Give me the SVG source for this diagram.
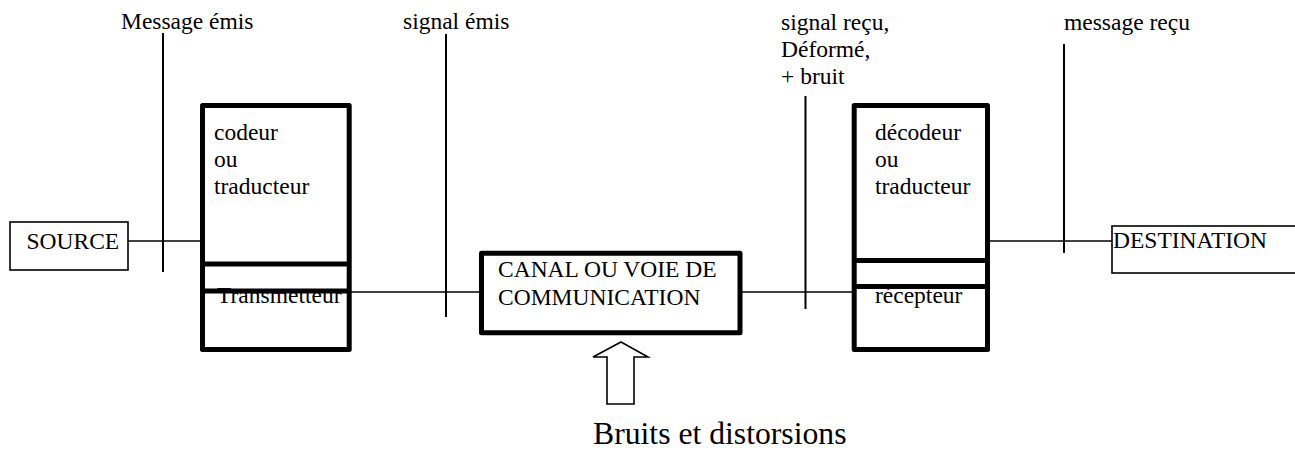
<svg xmlns="http://www.w3.org/2000/svg" width="1295" height="453" viewBox="0 0 1295 453">
<style>
text { font-family: "Liberation Serif", "Times New Roman", serif; font-size: 23.5px; fill: #000; }
.big { font-size: 31.7px; }
.thin { fill: #fff; stroke: #000; stroke-width: 1.6; }
.thick { fill: #fff; stroke: #000; stroke-width: 5; stroke-linejoin: round; }
.div { stroke: #000; stroke-width: 5; }
.conn { stroke: #000; stroke-width: 1.6; fill: none; }
.tick { stroke: #000; stroke-width: 2; fill: none; }
</style>
<rect width="1295" height="453" fill="#fff"/>
<g id="connectors">
  <line class="conn" x1="128" y1="241" x2="201" y2="241"/>
  <line class="conn" x1="350" y1="292" x2="480" y2="292"/>
  <line class="conn" x1="741" y1="292" x2="853" y2="292"/>
  <line class="conn" x1="989" y1="241" x2="1112" y2="241"/>
</g>
<g id="markers">
  <line class="tick" x1="163" y1="33" x2="163" y2="272"/>
  <line class="tick" x1="446" y1="34" x2="446" y2="317"/>
  <line class="tick" x1="805.5" y1="96" x2="805.5" y2="309"/>
  <line class="tick" x1="1064" y1="44" x2="1064" y2="253"/>
  <text x="121" y="29">Message émis</text>
  <text x="403" y="29">signal émis</text>
  <text x="781" y="30">signal reçu,</text>
  <text x="781" y="57">Déformé,</text>
  <text x="781" y="84">+ bruit</text>
  <text x="1064" y="30">message reçu</text>
</g>
<g id="source">
  <rect class="thin" x="10" y="222" width="118" height="48"/>
  <text x="26.5" y="249">SOURCE</text>
</g>
<g id="codeur">
  <rect class="thick" x="202.5" y="105.5" width="146.7" height="244"/>
  <line class="div" x1="202.5" y1="264" x2="349.2" y2="264"/>
  <line class="div" x1="202.5" y1="291" x2="349.2" y2="291"/>
  <text x="214" y="140">codeur</text>
  <text x="214" y="167">ou</text>
  <text x="214" y="194">traducteur</text>
  <text x="217" y="303">Transmetteur</text>
</g>
<g id="canal">
  <rect class="thick" x="481.5" y="253.3" width="258.5" height="79.5"/>
  <text x="498" y="277">CANAL OU VOIE DE</text>
  <text x="498" y="305">COMMUNICATION</text>
</g>
<g id="bruits">
  <polygon class="thin" points="621,342 648,357 634,357 634,404 607,404 607,357 593,357"/>
  <text class="big" x="593" y="444">Bruits et distorsions</text>
</g>
<g id="decodeur">
  <rect class="thick" x="854.2" y="105.5" width="133.3" height="244"/>
  <line class="div" x1="854.2" y1="260.5" x2="987.5" y2="260.5"/>
  <line class="div" x1="854.2" y1="286.5" x2="987.5" y2="286.5"/>
  <text x="875" y="140">décodeur</text>
  <text x="875" y="167">ou</text>
  <text x="875" y="194">traducteur</text>
  <text x="875" y="303">récepteur</text>
</g>
<g id="destination">
  <rect class="thin" x="1112" y="226" width="200" height="47"/>
  <text x="1113" y="248">DESTINATION</text>
</g>
</svg>
